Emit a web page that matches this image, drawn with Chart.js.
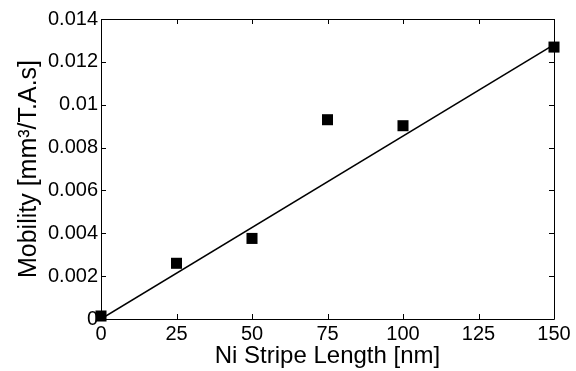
<!DOCTYPE html>
<html>
<head>
<meta charset="utf-8">
<script src="https://cdn.jsdelivr.net/npm/chart.js@4"></script>
<style>
  body { margin: 0; background: #fff; }
  canvas { display: block; }
</style>
</head>
<body>
<canvas id="mobChart" width="576" height="371"></canvas>
<script>
// measured points
const stripeLength = [0, 25, 50, 75, 100, 150];
const mobility = [0.00014, 0.0026, 0.00376, 0.0093, 0.00902, 0.01269];

// linear fit end points
const fitX = [0, 150];
const fitY = [0, 0.0128];

const xTicks = [0, 25, 50, 75, 100, 125, 150];
const yTicks = [0, 0.002, 0.004, 0.006, 0.008, 0.01, 0.012, 0.014];
const yTickLabels = ['0', '0.002', '0.004', '0.006', '0.008', '0.01', '0.012', '0.014'];

const font = "'Liberation Sans', Arial, sans-serif";

// MATLAB style box with inward ticks
const boxPlugin = {
    id: 'box',
    afterDraw(chart) {
        const ctx = chart.ctx;
        const a = chart.chartArea;
        const xs = chart.scales.x, ys = chart.scales.y;
        const len = 5;
        ctx.save();
        ctx.strokeStyle = '#000';
        ctx.lineWidth = 1;
        ctx.beginPath();
        ctx.rect(Math.round(a.left) + 0.5, Math.round(a.top) + 0.5,
            Math.round(a.right - a.left), Math.round(a.bottom - a.top));
        xs.ticks.forEach((t, i) => {
            const px = Math.round(xs.getPixelForTick(i)) + 0.5;
            ctx.moveTo(px, a.bottom); ctx.lineTo(px, a.bottom - len);
            ctx.moveTo(px, a.top); ctx.lineTo(px, a.top + len);
        });
        ys.ticks.forEach((t, i) => {
            const py = Math.round(ys.getPixelForTick(i)) + 0.5;
            ctx.moveTo(a.left, py); ctx.lineTo(a.left + len, py);
            ctx.moveTo(a.right, py); ctx.lineTo(a.right - len, py);
        });
        ctx.stroke();
        ctx.restore();
    }
};

new Chart(document.getElementById('mobChart').getContext('2d'), {
    type: 'scatter',
    data: {
        datasets: [{
            label: 'Mobility',
            data: stripeLength.map((x, i) => ({ x: x, y: mobility[i] })),
            pointStyle: 'rect',
            pointRadius: 7.8,
            pointBorderWidth: 0,
            backgroundColor: '#000',
            borderColor: '#000',
            clip: false
        }, {
            label: 'Fit',
            type: 'line',
            data: fitX.map((x, i) => ({ x: x, y: fitY[i] })),
            borderColor: '#000',
            borderWidth: 1.5,
            pointRadius: 0,
            fill: false
        }]
    },
    options: {
        responsive: false,
        animation: false,
        events: [],
        layout: { padding: { top: 19, right: 22, left: 0, bottom: 0 } },
        plugins: { legend: { display: false }, tooltip: { enabled: false } },
        scales: {
            x: {
                type: 'linear',
                min: 0, max: 150,
                afterBuildTicks: s => { s.ticks = xTicks.map(v => ({ value: v })); },
                afterFit: s => { s.height = 52; s.paddingLeft = 0; s.paddingRight = 0; },
                grid: { display: false, drawTicks: false },
                border: { display: false },
                ticks: { color: '#000', padding: 3, maxRotation: 0, font: { family: font, size: 20 } },
                title: {
                    display: true, text: 'Ni Stripe Length [nm]', color: '#000',
                    font: { family: font, size: 24 }, padding: { top: 1, bottom: 0 }
                }
            },
            y: {
                type: 'linear',
                min: 0, max: 0.014,
                afterBuildTicks: s => { s.ticks = yTicks.map(v => ({ value: v })); },
                afterFit: s => { s.width = 101; s.paddingTop = 0; s.paddingBottom = 0; },
                grid: { display: false, drawTicks: false },
                border: { display: false },
                ticks: {
                    color: '#000', padding: 3, font: { family: font, size: 20 },
                    callback: (v, i) => yTickLabels[i]
                },
                title: {
                    display: true, text: 'Mobility [mm³/T.A.s]', color: '#000',
                    font: { family: font, size: 25 }, padding: { top: 14, bottom: 0 }
                }
            }
        }
    },
    plugins: [boxPlugin]
});
</script>
</body>
</html>
